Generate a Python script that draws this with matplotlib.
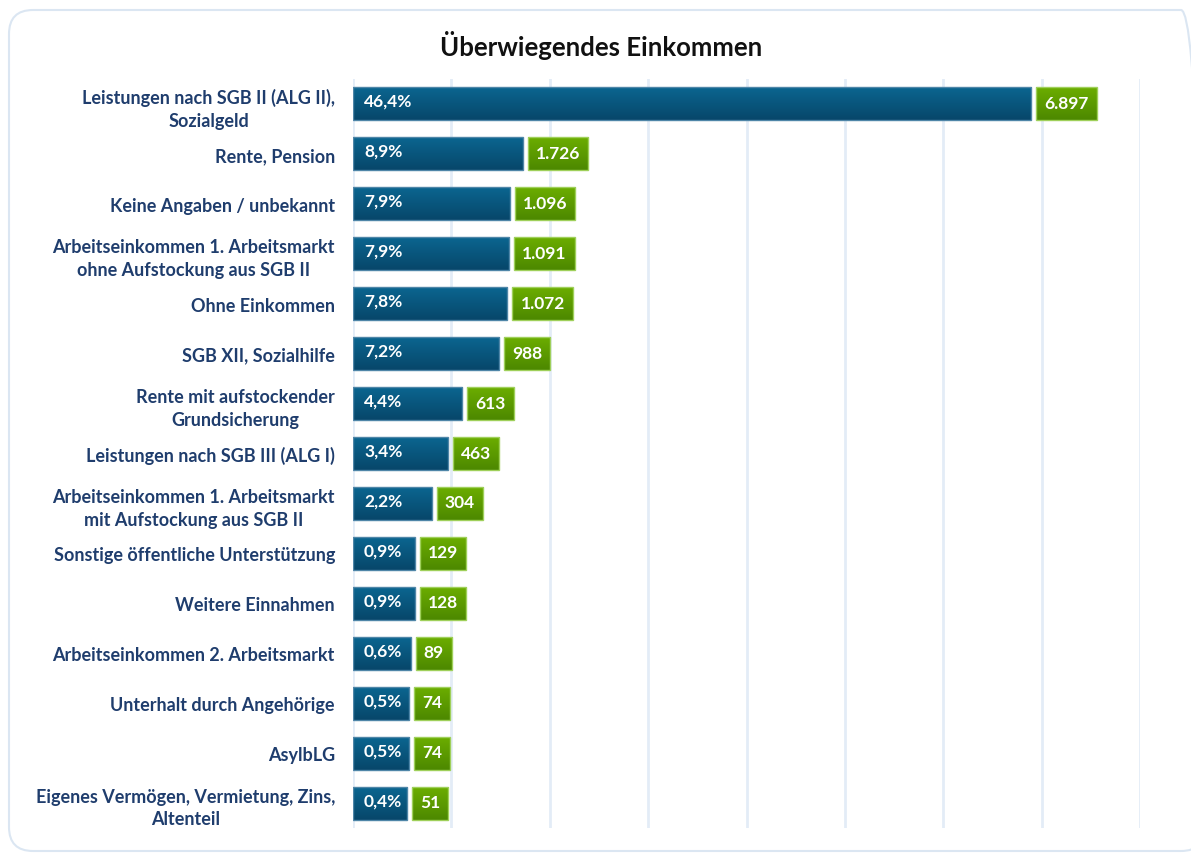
import numpy as np
import matplotlib
matplotlib.use("Agg")
import matplotlib.pyplot as plt
from matplotlib.patches import FancyBboxPatch
from matplotlib.transforms import IdentityTransform

plt.rcParams['font.family'] = ['Lato', 'DejaVu Sans']

categories = [
    "Leistungen nach SGB II (ALG II),\nSozialgeld",
    "Rente, Pension",
    "Keine Angaben / unbekannt",
    "Arbeitseinkommen 1. Arbeitsmarkt\nohne Aufstockung aus SGB II",
    "Ohne Einkommen",
    "SGB XII, Sozialhilfe",
    "Rente mit aufstockender\nGrundsicherung",
    "Leistungen nach SGB III (ALG I)",
    "Arbeitseinkommen 1. Arbeitsmarkt\nmit Aufstockung aus SGB II",
    "Sonstige öffentliche Unterstützung",
    "Weitere Einnahmen",
    "Arbeitseinkommen 2. Arbeitsmarkt",
    "Unterhalt durch Angehörige",
    "AsylbLG",
    "Eigenes Vermögen, Vermietung, Zins,\nAltenteil",
]
counts = [6897, 1726, 1096, 1091, 1072, 988, 613, 463, 304, 129, 128, 89, 74, 74, 51]
percents = ["46,4%", "8,9%", "7,9%", "7,9%", "7,8%", "7,2%", "4,4%", "3,4%",
            "2,2%", "0,9%", "0,9%", "0,6%", "0,5%", "0,5%", "0,4%"]

W, H = 1191, 854
fig = plt.figure(figsize=(W / 100, H / 100), dpi=100)

# card border (pixel coords, right edge runs off the picture)
fig.patches.append(FancyBboxPatch((9, H - 852), 1196, 841,
                                  boxstyle="round,pad=0,rounding_size=24",
                                  transform=IdentityTransform(), facecolor="none",
                                  edgecolor="#dbe6f2", linewidth=1.5, zorder=-1))

ax = fig.add_axes([353 / W, 1 - 829 / H, 787 / W, 749 / H])
ax.set_facecolor("none")
ax.set_xlim(0, 8000)
n = len(categories)
ax.set_ylim(n - 0.5, -0.5)
for s in ax.spines.values():
    s.set_visible(False)
ax.set_xticks(np.arange(0, 8001, 1000))
ax.tick_params(axis="x", length=0, labelbottom=False)
ax.set_yticks(range(n))
ax.set_yticklabels(categories, fontsize=13, fontweight="bold", color="#1f3d6d",
                   multialignment="center", linespacing=1.4)
ax.tick_params(axis="y", length=0, pad=13)
ax.grid(axis="x", color="#e3ecf7", linewidth=2)
ax.set_axisbelow(True)

fig.text(0.505, 1 - 45 / H, "Überwiegendes Einkommen", ha="center", va="center",
         fontsize=18.5, fontweight="bold", color="#111111")

px = 8000 / 787  # data units per pixel
bh = 0.66


def grad_box(x0, x1, y, top, bottom, edge):
    g = np.linspace(0, 1, 64).reshape(-1, 1)
    c0 = np.array(matplotlib.colors.to_rgb(top))
    c1 = np.array(matplotlib.colors.to_rgb(bottom))
    img = c0 + (c1 - c0) * g[..., None]
    ax.imshow(img, extent=(x0, x1, y + bh / 2, y - bh / 2), aspect="auto",
              interpolation="bilinear", zorder=2)
    ax.add_patch(plt.Rectangle((x0, y - bh / 2), x1 - x0, bh, fill=False,
                               edgecolor=edge, linewidth=1, zorder=3))


fig.canvas.draw()
renderer = fig.canvas.get_renderer()
for i, (c, p) in enumerate(zip(counts, percents)):
    # small bars get extra room for the percent label
    width = c + (49 * px if c < 1500 else 0)
    grad_box(0, width, i, "#0b6690", "#07466a", "#4f86a8")
    ax.text(11 * px, i - 0.06, p, ha="left", va="center", color="white",
            fontsize=12.5, fontweight="bold", zorder=4)
    lab = f"{c:,}".replace(",", ".")
    tx = width + 5 * px + 8 * px
    t = ax.text(tx, i - 0.02, lab, ha="left", va="center", color="white",
                fontsize=12.5, fontweight="bold", zorder=4)
    tw = t.get_window_extent(renderer).width * px
    grad_box(width + 5 * px, tx + tw + 8 * px, i, "#6cad00", "#4c8800", "#9fd05a")

ax.set_xlim(0, 8000)
ax.set_ylim(n - 0.5, -0.5)
fig.savefig("out.png", dpi=100)
